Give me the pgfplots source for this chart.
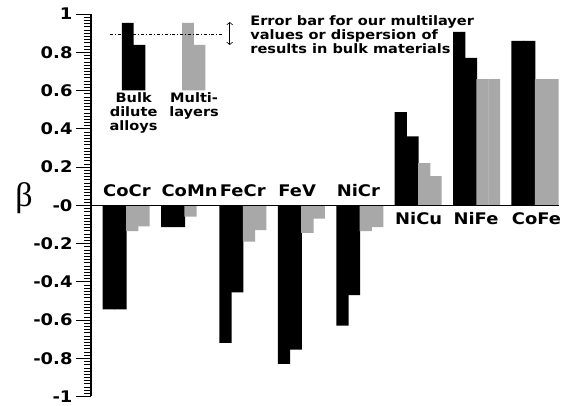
\documentclass[border=0pt]{standalone}
\usepackage{pgfplots}
\pgfplotsset{compat=1.18}
\usepackage{pgfplotstable}
\usepackage{fontspec}
\setmainfont{DejaVu Sans}[FakeStretch=1.12]
\newfontfamily\greekserif{Liberation Serif}
\usetikzlibrary{arrows.meta}
\definecolor{lgray}{RGB}{168,168,168}

\pgfplotstableread{
g   xbl   xbr   xgl   xgr   bl      br      gl      gr
0   0.1   0.3   0.5   0.7   -0.545  -0.545  -0.135  -0.110
1   1.1   1.3   1.5   1.7   -0.115  -0.115  -0.060   0.000
2   2.1   2.3   2.5   2.7   -0.720  -0.455  -0.190  -0.130
3   3.1   3.3   3.5   3.7   -0.830  -0.755  -0.145  -0.070
4   4.1   4.3   4.5   4.7   -0.630  -0.470  -0.135  -0.115
5   5.1   5.3   5.5   5.7    0.487   0.360   0.220   0.152
6   6.1   6.3   6.5   6.7    0.906   0.770   0.660   0.660
7   7.1   7.3   7.5   7.7    0.860   0.860   0.660   0.660
}\betadata

\begin{document}
\begin{tikzpicture}
\path (0,0) rectangle (571pt,400pt);
\begin{axis}[
  at={(91pt,3.5pt)}, anchor=south west,
  scale only axis, width=467.5pt, height=382.5pt,
  xmin=-0.205, xmax=7.8, ymin=-1, ymax=1,
  axis line style={draw=none},
  xtick=\empty,
  ytick pos=left,
  ytick={-1,-0.8,-0.6,-0.4,-0.2,0,0.2,0.4,0.6,0.8,1},
  yticklabels={-1,-0.8,-0.6,-0.4,-0.2,-0,0.2,0.4,0.6,0.8,1},
  minor y tick num=11,
  tick align=outside,
  major tick length=15pt, minor tick length=7pt,
  every tick/.append style={black, line width=0.8pt},
  every minor tick/.append style={line width=0.6pt},
  y tick label style={font=\fontsize{16}{16}\selectfont\bfseries},
  clip=false,
]
\addplot[ybar, bar shift=0pt, bar width=0.21, fill=black, draw=none] table[x=xbl, y=bl] {\betadata};
\addplot[ybar, bar shift=0pt, bar width=0.21, fill=black, draw=none] table[x=xbr, y=br] {\betadata};
\addplot[ybar, bar shift=0pt, bar width=0.21, fill=lgray, draw=none] table[x=xgl, y=gl] {\betadata};
\addplot[ybar, bar shift=0pt, bar width=0.2, fill=lgray, draw=none] table[x=xgr, y=gr] {\betadata};

\draw[line width=1.1pt] (axis cs:-0.205,0) -- (axis cs:7.8,0);
\draw[line width=1.1pt] (axis cs:-0.205,-1) -- (axis cs:-0.205,1);

% legend key bars
\addplot[fill=black, draw=none] coordinates {(0.325,0.6) (0.325,0.953) (0.525,0.953) (0.525,0.838) (0.725,0.838) (0.725,0.6)} -- cycle;
\addplot[fill=lgray, draw=none] coordinates {(1.355,0.6) (1.355,0.953) (1.555,0.953) (1.555,0.838) (1.755,0.838) (1.755,0.6)} -- cycle;

\draw[dash pattern=on 3pt off 2pt on 0.8pt off 2pt, line width=0.5pt] (axis cs:0.12,0.895) -- (axis cs:2.04,0.895);
\draw[{Straight Barb[length=2.5pt,width=6pt]}-{Straight Barb[length=2.5pt,width=6pt]}, line width=0.6pt] (axis cs:2.17,0.838) -- (axis cs:2.17,0.958);

\begin{scope}[every node/.style={font=\fontsize{13}{14}\selectfont\bfseries, inner sep=0pt}]
\node[align=center] at (axis cs:0.525,0.48) {Bulk\\dilute\\alloys};
\node[align=center] at (axis cs:1.56,0.517) {Multi-\\layers};
\node[align=left, anchor=west] at (axis cs:2.52,0.893) {Error bar for our multilayer\\values or dispersion of\\results in bulk materials};
\end{scope}

\begin{scope}[every node/.style={font=\fontsize{16}{16}\selectfont\bfseries, inner sep=0pt, anchor=west}]
\node at (axis cs:0,0.078) {CoCr};
\node at (axis cs:1,0.078) {CoMn};
\node at (axis cs:2,0.078) {FeCr};
\node at (axis cs:3,0.078) {FeV};
\node at (axis cs:4,0.078) {NiCr};
\node at (axis cs:5,-0.068) {NiCu};
\node at (axis cs:6,-0.068) {NiFe};
\node at (axis cs:7,-0.068) {CoFe};
\end{scope}

\node[font=\fontsize{34}{34}\selectfont\greekserif, inner sep=0pt] at (axis cs:-0.205,0.037) [xshift=-67pt] {β};
\end{axis}
% y-axis tick ladder (axis decoration)
\foreach \i in {0,...,10} \draw[line width=0.9pt] (76pt,{3.5pt+\i*38.25pt}) -- (91pt,{3.5pt+\i*38.25pt});
\foreach \i in {0,...,120} \draw[line width=0.6pt] (84pt,{3.5pt+\i*3.1875pt}) -- (91pt,{3.5pt+\i*3.1875pt});
\end{tikzpicture}
\end{document}
